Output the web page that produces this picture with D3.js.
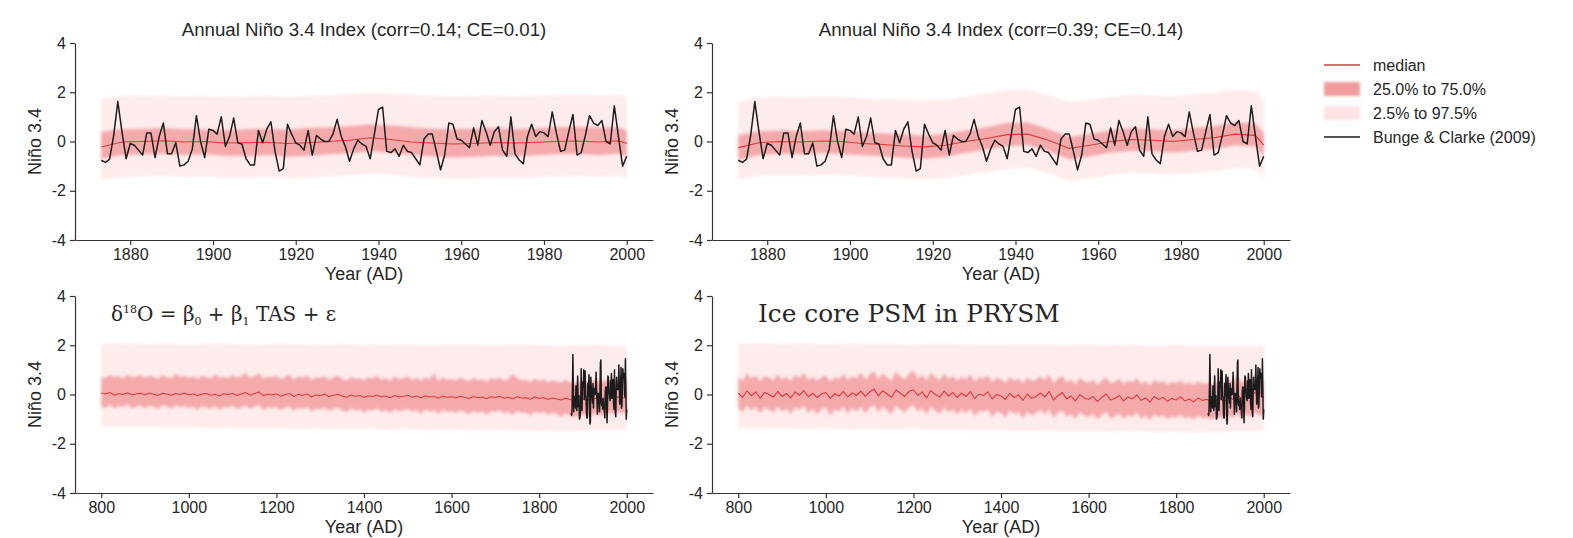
<!DOCTYPE html>
<html>
<head>
<meta charset="utf-8">
<script src="https://cdn.jsdelivr.net/npm/d3@7"></script>
<style>
  body { margin: 0; background: #fff; }
  text { font-family: "Liberation Sans", Arial, sans-serif; fill: #262626; }
</style>
</head>
<body>
<div id="chart"></div>
<script>
// ---- data ----
var titles = ["Annual Niño 3.4 Index (corr=0.14; CE=0.01)", "Annual Niño 3.4 Index (corr=0.39; CE=0.14)"];
var notes = ["", "", "delta", "Ice core PSM in PRYSM"];
var legendLabels = ["median", "25.0% to 75.0%", "2.5% to 97.5%", "Bunge & Clarke (2009)"];
var topTicks = [1880, 1900, 1920, 1940, 1960, 1980, 2000];
var longTicks = [800, 1000, 1200, 1400, 1600, 1800, 2000];
var yTicks = [-4, -2, 0, 2, 4];

// Bunge & Clarke (2009) annual Nino 3.4, 1873-2000
var obsYears = d3.range(1873, 2001);
var bungeClarke = [-0.76,-0.85,-0.72,0.25,1.62,0.40,-0.70,-0.08,-0.15,-0.35,
  -0.55,0.35,0.35,-0.65,0.20,0.75,-0.50,-0.50,-0.05,-1.00,
  -0.95,-0.80,-0.30,1.05,0.00,-0.65,0.50,0.45,0.30,1.00,
  -0.20,0.20,0.95,-0.05,-0.10,-0.70,-0.95,-0.95,0.45,-0.05,
  0.50,0.80,-0.40,-1.20,-1.10,0.70,0.30,-0.05,-0.15,-0.35,
  0.45,-0.55,0.25,0.10,0.00,0.00,0.30,0.90,0.20,-0.20,
  -0.80,-0.30,0.05,-0.10,-0.20,-0.70,0.30,1.30,1.40,-0.40,
  -0.45,-0.30,-0.60,-0.15,-0.40,-0.45,-0.70,-0.95,0.10,0.30,
  0.30,-0.40,-1.15,-0.55,0.75,0.70,0.10,0.05,-0.10,-0.25,
  0.55,-0.15,0.85,0.40,-0.15,0.40,0.60,-0.35,-0.60,1.00,
  -0.50,-0.75,-0.90,0.20,0.70,0.20,0.40,0.35,0.20,1.20,
  0.35,-0.40,-0.35,0.40,1.10,-0.55,-0.45,0.25,1.05,0.75,
  0.65,0.85,0.00,-0.10,1.45,0.20,-1.00,-0.60];

// top panels: reconstruction quantiles, every 5 years
var topYears = d3.range(1873, 2000, 5).concat([2000]);
var medTL = [-0.22,-0.02,0.00,0.03,-0.02,0.00,-0.06,-0.05,-0.03,-0.08,-0.05,0.00,0.05,0.15,0.08,-0.02,-0.06,-0.10,-0.08,-0.04,-0.06,-0.03,0.00,0.02,-0.02,0.03,-0.08];
var q75TL = [0.40,0.50,0.52,0.55,0.50,0.48,0.45,0.50,0.52,0.48,0.55,0.58,0.62,0.70,0.65,0.58,0.52,0.50,0.52,0.55,0.50,0.54,0.58,0.60,0.56,0.58,0.45];
var q25TL = [-0.70,-0.55,-0.52,-0.50,-0.55,-0.52,-0.58,-0.60,-0.55,-0.62,-0.58,-0.52,-0.48,-0.40,-0.45,-0.55,-0.60,-0.65,-0.62,-0.58,-0.60,-0.56,-0.52,-0.50,-0.55,-0.50,-0.62];
var q975TL = [1.75,1.85,1.88,1.86,1.84,1.85,1.82,1.84,1.86,1.83,1.85,1.88,1.92,1.98,1.95,1.90,1.86,1.84,1.85,1.87,1.84,1.86,1.88,1.90,1.88,1.89,1.80];
var q025TL = [-1.55,-1.45,-1.42,-1.40,-1.44,-1.42,-1.46,-1.48,-1.44,-1.50,-1.47,-1.42,-1.38,-1.30,-1.34,-1.44,-1.48,-1.52,-1.50,-1.46,-1.48,-1.45,-1.42,-1.40,-1.44,-1.40,-1.50];

var medTR = [-0.25,-0.05,0.00,-0.02,0.02,0.00,-0.08,-0.12,-0.18,-0.22,-0.15,0.00,0.12,0.28,0.30,0.05,-0.28,-0.15,0.00,0.08,0.05,0.00,0.08,0.15,0.30,0.25,-0.15];
var q75TR = [0.25,0.42,0.45,0.42,0.46,0.44,0.38,0.32,0.28,0.24,0.30,0.45,0.58,0.75,0.78,0.50,0.18,0.30,0.46,0.55,0.50,0.45,0.55,0.62,0.78,0.72,0.35];
var q25TR = [-0.75,-0.55,-0.50,-0.52,-0.48,-0.50,-0.56,-0.60,-0.66,-0.70,-0.62,-0.46,-0.32,-0.18,-0.15,-0.40,-0.72,-0.60,-0.45,-0.38,-0.40,-0.45,-0.38,-0.30,-0.15,-0.20,-0.62];
var q975TR = [1.60,1.78,1.82,1.80,1.83,1.82,1.76,1.72,1.68,1.65,1.70,1.82,1.95,2.10,2.12,1.88,1.60,1.70,1.82,1.90,1.88,1.84,1.90,1.98,2.10,2.05,1.70];
var q025TR = [-1.55,-1.40,-1.36,-1.38,-1.34,-1.36,-1.42,-1.46,-1.50,-1.54,-1.48,-1.36,-1.24,-1.10,-1.08,-1.30,-1.58,-1.48,-1.36,-1.28,-1.30,-1.34,-1.28,-1.20,-1.08,-1.12,-1.50];

// bottom panels: 800-2000, median and IQR every 10 years, outer band every 50 years
var longYears = d3.range(800, 2001, 10);
var outerYears = d3.range(800, 2001, 50);
var medBL = [0.06,0.02,0.08,-0.03,0.04,0.00,0.07,-0.02,0.03,0.05,
  -0.01,0.06,0.01,-0.04,0.05,0.02,-0.03,0.04,0.00,0.06,
  -0.02,0.03,-0.05,0.02,0.04,-0.03,0.01,-0.06,0.03,0.00,
  0.05,-0.04,0.02,0.08,-0.03,0.04,0.10,-0.05,0.02,-0.02,
  0.03,-0.07,0.00,0.04,-0.08,0.01,-0.04,0.03,-0.10,-0.02,
  -0.05,0.02,-0.09,-0.03,0.01,-0.06,-0.11,-0.02,-0.07,-0.04,
  -0.12,-0.05,-0.08,-0.02,-0.10,-0.06,-0.13,-0.04,-0.09,-0.07,
  -0.03,-0.11,-0.06,-0.14,-0.05,-0.10,-0.08,-0.15,-0.06,-0.11,
  -0.09,-0.14,-0.07,-0.12,-0.16,-0.08,-0.13,-0.10,-0.17,-0.09,
  -0.12,-0.07,-0.15,-0.11,-0.18,-0.09,-0.14,-0.13,-0.19,-0.10,
  -0.16,-0.12,-0.20,-0.14,-0.18,-0.22,-0.15,-0.20,-0.25,-0.22,
  -0.18,-0.24,-0.20,-0.15,-0.22,-0.18,-0.12,-0.16,-0.10,-0.14,
  -0.12];
var q75BL = [0.72,0.66,0.80,0.70,0.75,0.64,0.82,0.69,0.73,0.78,
  0.68,0.76,0.71,0.63,0.79,0.70,0.66,0.84,0.72,0.75,
  0.67,0.74,0.62,0.77,0.70,0.65,0.81,0.68,0.72,0.66,
  0.79,0.69,0.74,0.88,0.66,0.75,0.86,0.64,0.73,0.70,
  0.76,0.62,0.71,0.80,0.60,0.74,0.67,0.78,0.58,0.70,
  0.66,0.75,0.60,0.69,0.77,0.63,0.56,0.72,0.62,0.68,
  0.57,0.70,0.64,0.76,0.59,0.67,0.55,0.73,0.62,0.66,
  0.74,0.58,0.68,0.55,0.71,0.61,0.86,0.54,0.69,0.60,
  0.64,0.56,0.70,0.59,0.53,0.68,0.58,0.62,0.52,0.67,
  0.60,0.69,0.55,0.63,0.84,0.66,0.57,0.60,0.51,0.64,
  0.56,0.62,0.50,0.58,0.54,0.48,0.60,0.52,0.45,0.50,
  0.55,0.47,0.52,0.60,0.50,0.55,0.62,0.57,0.64,0.58,
  0.60];
var q25BL = [-0.48,-0.55,-0.42,-0.58,-0.46,-0.52,-0.40,-0.56,-0.50,-0.44,
  -0.57,-0.45,-0.51,-0.60,-0.43,-0.49,-0.58,-0.44,-0.52,-0.47,
  -0.55,-0.50,-0.62,-0.47,-0.53,-0.59,-0.46,-0.64,-0.50,-0.54,
  -0.45,-0.60,-0.52,-0.44,-0.58,-0.49,-0.42,-0.63,-0.51,-0.56,
  -0.50,-0.65,-0.54,-0.48,-0.66,-0.53,-0.60,-0.50,-0.70,-0.57,
  -0.62,-0.52,-0.68,-0.58,-0.54,-0.64,-0.72,-0.56,-0.66,-0.60,
  -0.74,-0.61,-0.67,-0.56,-0.70,-0.63,-0.76,-0.59,-0.68,-0.64,
  -0.58,-0.72,-0.62,-0.78,-0.60,-0.69,-0.65,-0.80,-0.61,-0.71,
  -0.68,-0.76,-0.63,-0.72,-0.80,-0.66,-0.74,-0.69,-0.82,-0.67,
  -0.71,-0.64,-0.76,-0.70,-0.84,-0.66,-0.75,-0.72,-0.86,-0.68,
  -0.77,-0.70,-0.82,-0.74,-0.79,-0.90,-0.76,-0.83,-0.92,-0.86,
  -0.80,-0.88,-0.83,-0.76,-0.85,-0.79,-0.72,-0.78,-0.70,-0.75,
  -0.72];
var q975BL = [2.05,2.08,2.04,2.06,2.03,2.07,2.05,2.02,2.06,2.04,2.03,2.05,2.01,2.04,2.02,2.00,2.03,2.01,1.99,2.02,2.00,1.98,2.01,1.99,1.98];
var q025BL = [-1.30,-1.33,-1.31,-1.35,-1.32,-1.36,-1.34,-1.38,-1.35,-1.40,-1.37,-1.41,-1.39,-1.43,-1.40,-1.45,-1.42,-1.46,-1.44,-1.48,-1.46,-1.50,-1.47,-1.45,-1.44];

var medBR = [0.05,-0.12,0.15,-0.05,0.10,-0.15,0.08,0.00,-0.10,0.12,
  -0.08,0.04,-0.14,0.10,-0.03,0.16,-0.09,0.05,-0.12,0.02,
  0.08,-0.16,0.03,-0.06,0.12,-0.10,0.06,-0.04,0.14,-0.08,
  0.10,0.22,-0.05,0.15,0.02,-0.12,0.18,0.05,-0.08,0.12,
  0.20,-0.04,0.10,-0.14,0.16,0.00,-0.10,0.14,-0.06,0.08,
  -0.12,0.06,-0.08,0.12,-0.16,0.02,-0.04,0.10,-0.18,0.00,
  -0.06,-0.20,0.04,-0.12,-0.02,-0.24,0.02,-0.15,-0.08,0.06,
  -0.10,0.12,-0.22,-0.05,0.08,-0.18,-0.06,-0.26,0.00,-0.14,
  -0.20,-0.08,-0.28,-0.12,0.02,-0.22,-0.16,-0.04,-0.26,-0.10,
  -0.18,-0.02,-0.24,-0.14,-0.30,-0.08,-0.20,-0.12,-0.28,-0.16,
  -0.22,-0.10,-0.26,-0.18,-0.30,-0.14,-0.24,-0.20,-0.28,-0.25,
  -0.15,-0.30,-0.10,-0.20,0.05,-0.25,-0.05,-0.15,0.10,-0.05,
  -0.10];
var q75BR = [0.72,0.55,0.85,0.64,0.78,0.52,0.76,0.68,0.58,0.82,
  0.60,0.74,0.54,0.80,0.66,0.88,0.58,0.72,0.56,0.70,
  0.78,0.52,0.70,0.62,0.84,0.58,0.74,0.64,0.90,0.60,
  0.80,0.95,0.62,0.86,0.70,0.56,0.92,0.74,0.60,0.84,
  0.98,0.64,0.80,0.56,0.88,0.70,0.58,0.86,0.62,0.76,
  0.56,0.74,0.60,0.82,0.52,0.70,0.64,0.78,0.50,0.68,
  0.62,0.48,0.72,0.56,0.66,0.44,0.70,0.54,0.60,0.74,
  0.58,0.82,0.46,0.64,0.76,0.50,0.62,0.42,0.68,0.54,
  0.48,0.60,0.40,0.56,0.70,0.46,0.52,0.64,0.42,0.58,
  0.50,0.66,0.44,0.54,0.38,0.60,0.48,0.56,0.40,0.52,
  0.46,0.58,0.42,0.50,0.38,0.54,0.44,0.48,0.40,0.45,
  0.55,0.40,0.60,0.50,0.75,0.45,0.65,0.55,0.80,0.65,
  0.60];
var q25BR = [-0.55,-0.72,-0.45,-0.66,-0.50,-0.78,-0.52,-0.62,-0.74,-0.48,
  -0.70,-0.56,-0.80,-0.50,-0.64,-0.44,-0.76,-0.58,-0.82,-0.60,
  -0.52,-0.86,-0.60,-0.70,-0.48,-0.78,-0.56,-0.68,-0.50,-0.76,
  -0.54,-0.42,-0.72,-0.50,-0.64,-0.80,-0.46,-0.60,-0.74,-0.52,
  -0.44,-0.70,-0.56,-0.82,-0.50,-0.66,-0.78,-0.54,-0.72,-0.60,
  -0.80,-0.62,-0.76,-0.58,-0.88,-0.66,-0.70,-0.60,-0.92,-0.68,
  -0.74,-0.94,-0.64,-0.80,-0.70,-0.98,-0.68,-0.86,-0.76,-0.62,
  -0.82,-0.60,-0.96,-0.74,-0.64,-0.90,-0.78,-1.00,-0.70,-0.86,
  -0.92,-0.78,-1.02,-0.84,-0.70,-0.96,-0.88,-0.76,-1.00,-0.82,
  -0.90,-0.72,-0.98,-0.86,-1.04,-0.80,-0.92,-0.84,-1.00,-0.88,
  -0.94,-0.80,-0.98,-0.90,-1.02,-0.86,-0.96,-0.92,-1.00,-0.95,
  -0.90,-1.00,-0.85,-0.95,-0.75,-1.00,-0.80,-0.90,-0.70,-0.85,
  -0.85];
var q975BR = [2.06,2.09,2.05,2.08,2.04,2.07,2.05,2.06,2.03,2.05,2.04,2.02,2.04,2.01,2.03,2.00,2.02,1.99,2.01,1.98,2.00,1.97,1.99,1.98,1.97];
var q025BR = [-1.35,-1.38,-1.36,-1.40,-1.37,-1.41,-1.39,-1.42,-1.40,-1.44,-1.42,-1.46,-1.44,-1.48,-1.46,-1.50,-1.48,-1.52,-1.50,-1.53,-1.51,-1.54,-1.52,-1.50,-1.48];

// ---- layout ----
var panelW = 578, panelH = 197;
var colX = [75, 712], rowY = [43, 296];
var outerColor = "#feebeb", innerColor = "#f3a2a5", medColor = "#e03a3d", obsColor = "#1c1c1c";

var panels = [
  {x0: colX[0], y0: rowY[0], domain: [1866.65, 2006.35], ticks: topTicks, title: titles[0],
   yrs: topYears, med: medTL, q25: q25TL, q75: q75TL, oyrs: topYears, q025: q025TL, q975: q975TL, note: notes[0]},
  {x0: colX[1], y0: rowY[0], domain: [1866.65, 2006.35], ticks: topTicks, title: titles[1],
   yrs: topYears, med: medTR, q25: q25TR, q75: q75TR, oyrs: topYears, q025: q025TR, q975: q975TR, note: notes[1]},
  {x0: colX[0], y0: rowY[1], domain: [740, 2060], ticks: longTicks, title: "",
   yrs: longYears, med: medBL, q25: q25BL, q75: q75BL, oyrs: outerYears, q025: q025BL, q975: q975BL, note: notes[2]},
  {x0: colX[1], y0: rowY[1], domain: [740, 2060], ticks: longTicks, title: "",
   yrs: longYears, med: medBR, q25: q25BR, q75: q75BR, oyrs: outerYears, q025: q025BR, q975: q975BR, note: notes[3]}
];

var svg = d3.select("#chart").append("svg")
  .attr("width", 1573).attr("height", 538);

svg.append("defs").append("filter").attr("id", "soft")
  .attr("x", "-5%").attr("y", "-30%").attr("width", "110%").attr("height", "160%")
  .append("feGaussianBlur").attr("stdDeviation", 1.5);

panels.forEach(function(p) {
  var g = svg.append("g").attr("transform", "translate(" + p.x0 + "," + p.y0 + ")");
  var x = d3.scaleLinear().domain(p.domain).range([0, panelW]);
  var y = d3.scaleLinear().domain([-4, 4]).range([panelH, 0]);

  var outer = p.oyrs.map(function(yr, i) { return {yr: yr, lo: p.q025[i], hi: p.q975[i]}; });
  var inner = p.yrs.map(function(yr, i) { return {yr: yr, lo: p.q25[i], hi: p.q75[i], m: p.med[i]}; });
  var obs = obsYears.map(function(yr, i) { return {yr: yr, v: bungeClarke[i]}; });

  var band = d3.area().x(function(d) { return x(d.yr); })
    .y0(function(d) { return y(d.lo); }).y1(function(d) { return y(d.hi); });

  g.append("path").datum(outer).attr("fill", outerColor).attr("filter", "url(#soft)").attr("d", band);
  g.append("path").datum(inner).attr("fill", innerColor).attr("opacity", 0.9)
    .attr("filter", "url(#soft)").attr("d", band);

  g.append("path").datum(inner)
    .attr("fill", "none").attr("stroke", medColor).attr("stroke-width", 1.1)
    .attr("d", d3.line().x(function(d) { return x(d.yr); }).y(function(d) { return y(d.m); }));

  g.append("path").datum(obs)
    .attr("fill", "none").attr("stroke", obsColor).attr("stroke-width", 1.5)
    .attr("stroke-linejoin", "round")
    .attr("d", d3.line().x(function(d) { return x(d.yr); }).y(function(d) { return y(d.v); }));

  // axes
  var xa = g.append("g").attr("transform", "translate(0," + panelH + ")")
    .call(d3.axisBottom(x).tickValues(p.ticks).tickSize(5).tickSizeOuter(0).tickPadding(4)
      .tickFormat(d3.format("d")));
  var ya = g.append("g")
    .call(d3.axisLeft(y).tickValues(yTicks).tickSize(5).tickSizeOuter(0).tickPadding(4)
      .tickFormat(function(d) { return d < 0 ? "-" + (-d) : String(d); }));
  [xa, ya].forEach(function(a) {
    a.attr("font-family", null).attr("font-size", null);
    a.selectAll("path, line").attr("stroke", "#333").attr("stroke-width", 1.2);
    a.selectAll("text").style("font-size", "16px").attr("fill", "#333");
  });

  g.append("text").attr("x", panelW / 2).attr("y", panelH + 40)
    .attr("text-anchor", "middle").style("font-size", "18px").text("Year (AD)");
  g.append("text").attr("transform", "translate(-34," + (panelH / 2) + ") rotate(-90)")
    .attr("text-anchor", "middle").style("font-size", "18px").text("Niño 3.4");

  if (p.title) {
    g.append("text").attr("x", panelW / 2).attr("y", -7)
      .attr("text-anchor", "middle").style("font-size", "18.7px").text(p.title);
  }

  if (p.note === "delta") {
    var t = g.append("text").attr("x", 36).attr("y", 25)
      .style("font-family", "'DejaVu Serif', serif").style("font-size", "20px").attr("fill", "#3a3a3a");
    t.append("tspan").text("δ");
    t.append("tspan").attr("dy", -8).style("font-size", "11px").text("18");
    t.append("tspan").attr("dy", 8).text("O = β");
    t.append("tspan").attr("dy", 4).style("font-size", "11px").text("0");
    t.append("tspan").attr("dy", -4).text(" + β");
    t.append("tspan").attr("dy", 4).style("font-size", "11px").text("1");
    t.append("tspan").attr("dy", -4).text(" TAS + ε");
  } else if (p.note) {
    g.append("text").attr("x", 46).attr("y", 26)
      .style("font-family", "'DejaVu Serif', serif").style("font-size", "24.8px").attr("fill", "#3a3a3a")
      .text(p.note);
  }
});

// legend
var lg = svg.append("g").attr("transform", "translate(1324,65)");
legendLabels.forEach(function(lab, i) {
  var row = lg.append("g").attr("transform", "translate(0," + (i * 24) + ")");
  if (i === 0 || i === 3) {
    row.append("line").attr("x1", 0).attr("x2", 36).attr("y1", 0).attr("y2", 0)
      .attr("stroke", i === 0 ? medColor : obsColor).attr("stroke-width", 1.5);
  } else {
    row.append("rect").attr("x", 0).attr("y", -7).attr("width", 36).attr("height", 14)
      .attr("fill", i === 1 ? "#ee9c9e" : "#fde3e4").attr("filter", "url(#soft)");
  }
  row.append("text").attr("x", 49).attr("y", 6).style("font-size", "16px").text(lab);
});
</script>
</body>
</html>
